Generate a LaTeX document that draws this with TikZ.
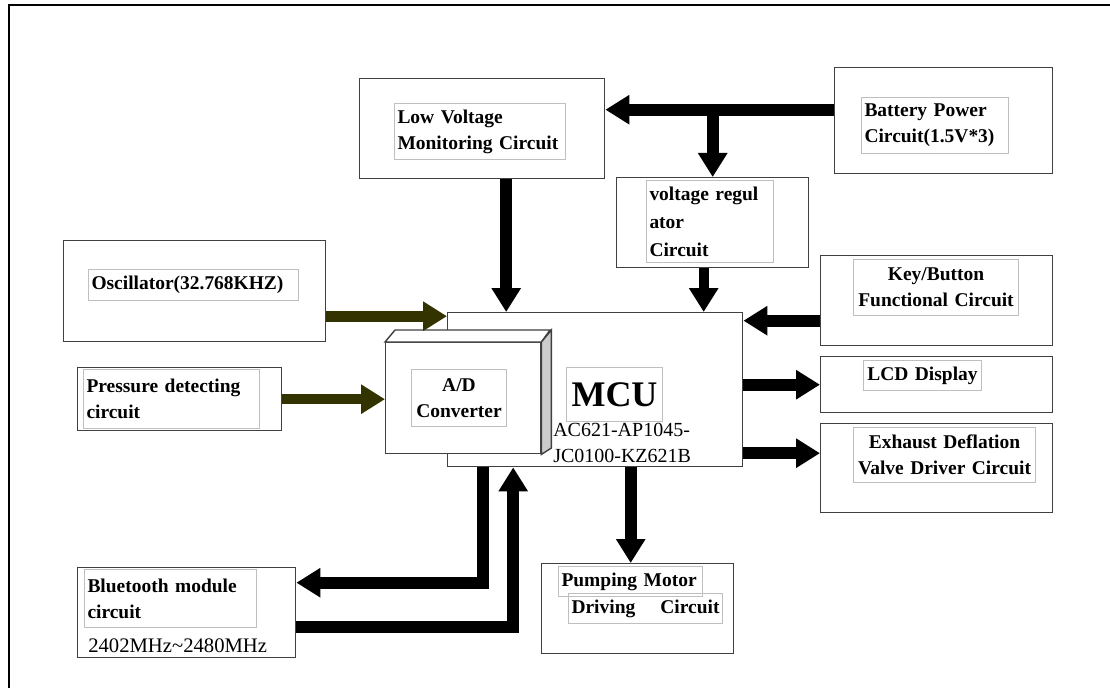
\documentclass[tikz,border=0pt]{standalone}
\usepackage{fontspec}
\setmainfont{Liberation Serif}
\usetikzlibrary{arrows.meta}
\newdimen\upx \upx=0.75pt
\definecolor{darkolive}{RGB}{51,51,0}
\newcommand{\lblfont}{\bfseries\fontsize{14.6}{19.5}\selectfont}
\newcommand{\mcufont}{\bfseries\fontsize{27}{30}\selectfont}
\newcommand{\plainfont}{\fontsize{15}{19.5}\selectfont}
\begin{document}
\begin{tikzpicture}[x=\upx,y=-\upx,
  outer/.style 2 args={draw=black!75,fill=white,line width=1.4\upx,anchor=north west,inner sep=0pt,minimum width=#1\upx,minimum height=#2\upx},
  lbl/.style 2 args={draw=black!25,line width=1\upx,anchor=north west,inner xsep=3\upx,inner ysep=0pt,text width=#1\upx,minimum height=#2\upx,align=left,font=\lblfont},
  fat/.style={line width=12\upx,-{Triangle[length=18pt,width=21pt]}}]
\useasboundingbox (0,0) rectangle (1110,688);
\draw[line width=1.5\upx] (9,688)--(9,5)--(1110,5);

\node[outer={245}{100}] (lvm) at (359,78) {};
\node[lbl={165}{56}] (lvmtxt) at (394,103) {Low Voltage\\Monitoring Circuit};
\node[outer={218}{106}] (batt) at (834,67) {};
\node[lbl={141}{56}] (batttxt) at (861,97) {Battery Power\\Circuit(1.5V*3)};
\node[outer={192}{90}] (reg) at (616,177) {};
\node[lbl={121}{82},font=\bfseries\fontsize{14.6}{21}\selectfont] (regtxt) at (646,180) {voltage regul\\ator\\Circuit};
\node[outer={262}{101}] (osc) at (63,240) {};
\node[lbl={204}{31}] (osctxt) at (88,269) {Oscillator(32.768KHZ)};
\node[outer={232}{90}] (key) at (820,255) {};
\node[lbl={159}{56},align=center] (keytxt) at (853,259) {Key/Button\\Functional Circuit};
\node[outer={232}{56}] (lcd) at (820,356) {};
\node[lbl={112}{30},align=center] (lcdtxt) at (863,360) {LCD Display};
\node[outer={232}{89}] (exh) at (820,423) {};
\node[lbl={176}{55},align=center] (exhtxt) at (853,427) {Exhaust Deflation\\Valve Driver Circuit};

\node[outer={295}{154}] (mcu) at (447,312) {};
\node[lbl={90}{54},align=center,font=\mcufont] (mcutxt) at (566,367) {MCU};
\node[anchor=north west,inner sep=0pt,align=left,font=\plainfont] (partno) at (553,423) {AC621-AP1045-\\JC0100-KZ621B};

\node[outer={155}{111}] (ad) at (385,342) {};
\draw[draw=black!75,fill=white,line width=1.4\upx] (ad.north west)--++(10,-12)--++(155,0)--(ad.north east)--cycle;
\draw[draw=black!75,fill=black!20,line width=1.4\upx] (ad.north east)--++(10,-12)--++(0,118)--(ad.south east)--cycle;
\node[lbl={89}{57},align=center] (adtxt) at (411,369) {A/D\\Converter};

\node[outer={204}{63}] (press) at (77,367) {};
\node[lbl={170}{59}] (presstxt) at (83,369) {Pressure detecting\\circuit};
\node[outer={218}{90}] (bt) at (77,567) {};
\node[lbl={166}{58}] (bttxt) at (84,569) {Bluetooth module\\circuit};
\node[anchor=base west,inner sep=0pt,font=\fontsize{15.5}{19}\selectfont] (btfreq) at (88,652) {2402MHz\symbol{"7E}2480MHz};
\node[outer={192}{90}] (pump) at (541,563) {};
\node[lbl={138}{30}] (pumptxta) at (558,566) {Pumping Motor};
\node[lbl={148}{30}] (pumptxtb) at (568,593) {Driving\hfill Circuit};

\coordinate (bp) at ([yshift=11\upx]batt.west);
\draw[fat] (bp)--(bp -| lvm.east);
\draw[fat] (bp -| reg.north)--(reg.north);
\coordinate (lv) at ([xshift=24\upx]lvm.south);
\draw[fat] (lv)--(lv |- mcu.north);
\coordinate (rg) at ([xshift=-9\upx]reg.south);
\draw[fat,line width=10\upx] (rg)--(rg |- mcu.north);
\coordinate (ky) at ([yshift=-20\upx]key.west);
\draw[fat] (ky)--(ky -| mcu.east);
\coordinate (os) at ([yshift=-25\upx]osc.east);
\draw[fat,darkolive,line width=11\upx] (os)--(os -| mcu.west);
\draw[fat,darkolive,line width=10\upx] (press.east)--(press.east -| ad.west);
\draw[fat] (mcu.east |- lcd.west)--(lcd.west);
\coordinate (ex) at ([yshift=15\upx]exh.west);
\draw[fat] (ex -| mcu.east)--(ex);
\coordinate (pp) at ([xshift=-7\upx]pump.north);
\draw[fat] (pp |- mcu.south)--(pp);
\coordinate (bo) at ([yshift=30\upx]bt.east);
\coordinate (bi) at ([yshift=-14\upx]bt.east);
\coordinate (mo) at ([xshift=-112\upx]mcu.south);
\coordinate (mi) at ([xshift=-82\upx]mcu.south);
\draw[fat] (mo) |- (bo);
\draw[fat] (bi) -| (mi);
\end{tikzpicture}
\end{document}
